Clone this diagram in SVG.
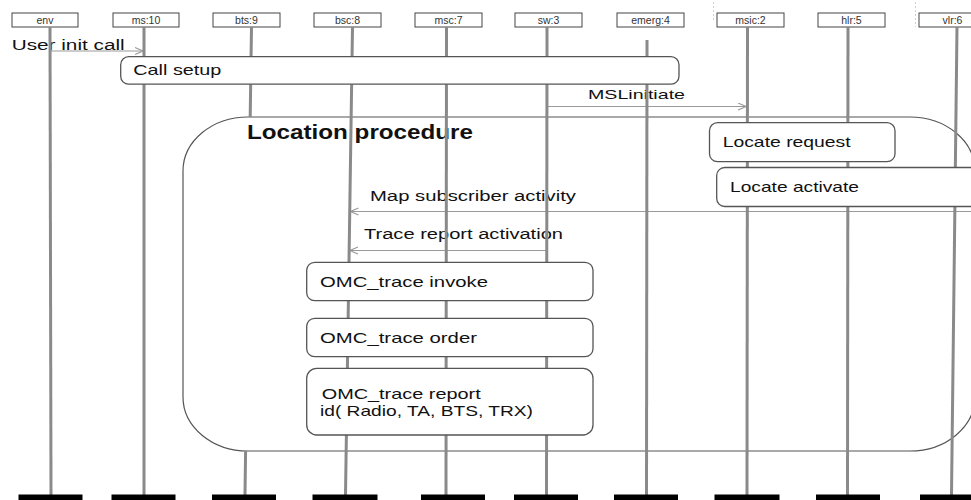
<svg xmlns="http://www.w3.org/2000/svg" width="971" height="500" viewBox="0 0 971 500">
<style>
  text { font-family: "Liberation Sans", Arial, sans-serif; fill: #111; }
  .hdr rect { fill: #fff; stroke: #444; stroke-width: 1; }
  .hdr text { font-size: 10.5px; fill: #333; text-anchor: middle; }
  .life { stroke: #8a8a8a; stroke-width: 3; fill: none; }
  .act rect { fill: #fff; stroke: #555; stroke-width: 1.3; }
  .act text { font-size: 15px; }
  .msg { stroke: #9a9a9a; stroke-width: 1.2; fill: none; marker-end: url(#open); }
  .lbl { font-size: 15.5px; }
  .faint { stroke: #d0d0d0; stroke-width: 1; stroke-dasharray: 2 2; }
</style>
<defs>
  <marker id="open" markerUnits="userSpaceOnUse" markerWidth="10" markerHeight="10" refX="9" refY="4" orient="auto">
    <path d="M1,0.5 L9,4 L1,7.5" fill="none" stroke="#9a9a9a" stroke-width="1.1"/>
  </marker>
</defs>

<rect width="971" height="500" fill="#fff"/>

<line class="faint" x1="713.5" y1="2" x2="713.5" y2="22"/>
<line class="faint" x1="915.5" y1="2" x2="915.5" y2="27"/>

<!-- Location procedure frame -->
<g id="location-procedure">
  <rect x="183" y="117" width="792" height="334" rx="65" ry="54" fill="none" stroke="#555" stroke-width="1.2"/>
  <text x="247" y="139" font-size="20" font-weight="bold" textLength="226" lengthAdjust="spacingAndGlyphs">Location procedure</text>
</g>

<!-- Connectors -->
<g id="connectors">
  <line class="msg" x1="50" y1="51" x2="143" y2="51"/>
  <text class="lbl" x="11.7" y="50" textLength="113" lengthAdjust="spacingAndGlyphs">User init call</text>

  <line class="msg" x1="547" y1="106.5" x2="746" y2="106.5"/>
  <text x="588" y="99" font-size="13.5" textLength="97" lengthAdjust="spacingAndGlyphs">MSLinitiate</text>

  <line class="msg" x1="971" y1="211.5" x2="350.5" y2="211.5"/>
  <text class="lbl" x="370" y="200.7" textLength="206" lengthAdjust="spacingAndGlyphs">Map subscriber activity</text>

  <line class="msg" x1="547" y1="250.5" x2="350" y2="250.5"/>
  <text class="lbl" x="364" y="239.3" textLength="199" lengthAdjust="spacingAndGlyphs">Trace report activation</text>
</g>

<!-- Participants -->
<g id="env" class="hdr">
  <rect x="12" y="13" width="66" height="14"/><text x="45" y="24">env</text>
  <line class="life" x1="50" y1="27" x2="51" y2="495"/>
  <rect x="18.5" y="494.5" width="64" height="8" style="fill:#000;stroke:none"/>
</g>
<g id="ms10" class="hdr">
  <rect x="113" y="13" width="66" height="14"/><text x="146" y="24">ms:10</text>
  <line class="life" x1="144" y1="27" x2="144" y2="495"/>
  <rect x="111.5" y="494.5" width="64" height="8" style="fill:#000;stroke:none"/>
</g>
<g id="bts9" class="hdr">
  <rect x="213" y="13" width="67" height="14"/><text x="246.5" y="24">bts:9</text>
  <line class="life" x1="251.5" y1="27" x2="250.2" y2="117"/>
  <line class="life" x1="245.6" y1="451" x2="245" y2="495"/>
  <rect x="212" y="494.5" width="64" height="8" style="fill:#000;stroke:none"/>
</g>
<g id="bsc8" class="hdr">
  <rect x="314" y="13" width="67" height="14"/><text x="347.5" y="24">bsc:8</text>
  <line class="life" x1="352.5" y1="27" x2="345.5" y2="495"/>
  <rect x="312.5" y="494.5" width="65" height="8" style="fill:#000;stroke:none"/>
</g>
<g id="msc7" class="hdr">
  <rect x="415" y="13" width="67" height="14"/><text x="448.5" y="24">msc:7</text>
  <line class="life" x1="446.5" y1="27" x2="446" y2="495"/>
  <rect x="421" y="494.5" width="64" height="8" style="fill:#000;stroke:none"/>
</g>
<g id="sw3" class="hdr">
  <rect x="515" y="13" width="67" height="14"/><text x="548.5" y="24">sw:3</text>
  <line class="life" x1="547" y1="27" x2="546.5" y2="495"/>
  <rect x="514" y="494.5" width="64" height="8" style="fill:#000;stroke:none"/>
</g>
<g id="emerg4" class="hdr">
  <rect x="617" y="13" width="67" height="14"/><text x="650.5" y="24">emerg:4</text>
  <line class="life" x1="647" y1="40" x2="646.5" y2="495"/>
  <rect x="614" y="494.5" width="64" height="8" style="fill:#000;stroke:none"/>
</g>
<g id="msic2" class="hdr">
  <rect x="717" y="13" width="67" height="14"/><text x="750.5" y="24">msic:2</text>
  <line class="life" x1="747.5" y1="27" x2="747" y2="495"/>
  <rect x="714.5" y="494.5" width="65" height="8" style="fill:#000;stroke:none"/>
</g>
<g id="hlr5" class="hdr">
  <rect x="818" y="13" width="67" height="14"/><text x="851.5" y="24">hlr:5</text>
  <line class="life" x1="848" y1="27" x2="847.5" y2="495"/>
  <rect x="816" y="494.5" width="64" height="8" style="fill:#000;stroke:none"/>
</g>
<g id="vlr6" class="hdr">
  <rect x="919" y="13" width="67" height="14"/><text x="952.5" y="24">vlr:6</text>
  <line class="life" x1="957" y1="27" x2="951.5" y2="495"/>
  <rect x="920" y="494.5" width="60" height="8" style="fill:#000;stroke:none"/>
</g>

<!-- Activity boxes -->
<g id="call-setup" class="act">
  <rect x="120.7" y="56.7" width="558.3" height="27.5" rx="8"/>
  <text x="133.3" y="75" font-size="15.5" textLength="88" lengthAdjust="spacingAndGlyphs">Call setup</text>
</g>
<g id="locate-request" class="act">
  <rect x="709.5" y="122.7" width="185.5" height="39" rx="8"/>
  <text x="722.7" y="147" textLength="128" lengthAdjust="spacingAndGlyphs">Locate request</text>
</g>
<g id="locate-activate" class="act">
  <rect x="716.7" y="167.5" width="280" height="39" rx="8"/>
  <text x="730" y="191.5" textLength="129" lengthAdjust="spacingAndGlyphs">Locate activate</text>
</g>
<g id="omc-invoke" class="act">
  <rect x="306.7" y="262.3" width="286.3" height="38.4" rx="8"/>
  <text x="320" y="287" textLength="168" lengthAdjust="spacingAndGlyphs">OMC_trace invoke</text>
</g>
<g id="omc-order" class="act">
  <rect x="306.7" y="318.3" width="286.3" height="38.4" rx="8"/>
  <text x="320" y="342.5" textLength="157" lengthAdjust="spacingAndGlyphs">OMC_trace order</text>
</g>
<g id="omc-report" class="act">
  <rect x="306.7" y="368.3" width="286.3" height="66.7" rx="10"/>
  <text x="321.7" y="398.5" textLength="159" lengthAdjust="spacingAndGlyphs">OMC_trace report</text>
  <text x="320" y="416" textLength="213" lengthAdjust="spacingAndGlyphs">id( Radio, TA, BTS, TRX)</text>
</g>
</svg>
